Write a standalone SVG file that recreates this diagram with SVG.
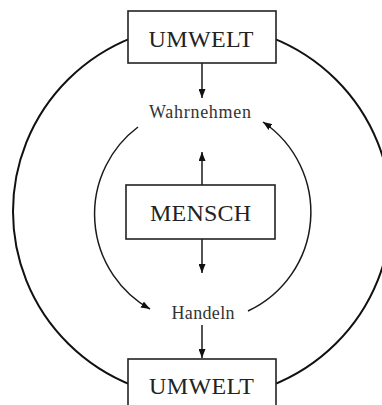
<svg xmlns="http://www.w3.org/2000/svg" width="382" height="405" viewBox="0 0 382 405">
<style>
.box{fill:#fff;stroke:#222;stroke-width:1.6}
.ln{fill:none;stroke:#1a1a1a;stroke-width:1.5}
.ring{fill:none;stroke:#111;stroke-width:2}
.big{font-family:"Liberation Serif",serif;font-size:24px;fill:#222;text-anchor:middle}
.sm{font-family:"Liberation Serif",serif;font-size:18px;fill:#333;text-anchor:middle}
</style>
<defs>
<marker id="ah" viewBox="0 0 9 7" refX="9" refY="3.5" markerWidth="9" markerHeight="7" markerUnits="userSpaceOnUse" orient="auto">
<path d="M0,0 L9,3.5 L0,7 z" fill="#111"/>
</marker>
</defs>
<rect width="382" height="405" fill="#fff"/>
<g id="connectors">
<ellipse class="ring" cx="202" cy="211.5" rx="189" ry="187"/>
<line class="ln" x1="202" y1="63" x2="202" y2="98" marker-end="url(#ah)"/>
<line class="ln" x1="202" y1="185" x2="202" y2="152" marker-end="url(#ah)"/>
<line class="ln" x1="202" y1="239" x2="202" y2="273" marker-end="url(#ah)"/>
<line class="ln" x1="202" y1="325" x2="202" y2="358" marker-end="url(#ah)"/>
<path class="ln" d="M 138 127 A 109 109 0 0 0 150 309" marker-end="url(#ah)"/>
<path class="ln" d="M 248 311 A 109 109 0 0 0 263 122" marker-end="url(#ah)"/>
</g>
<g id="umwelt-top">
<rect class="box" x="128" y="11" width="148" height="52"/>
<text class="big" x="201" y="46.5" textLength="105">UMWELT</text>
</g>
<g id="wahrnehmen">
<text class="sm" x="200" y="118" textLength="102">Wahrnehmen</text>
</g>
<g id="mensch">
<rect class="box" x="126" y="185" width="149" height="54"/>
<text class="big" x="200.5" y="221" textLength="101">MENSCH</text>
</g>
<g id="handeln">
<text class="sm" x="203" y="319" textLength="63">Handeln</text>
</g>
<g id="umwelt-bottom">
<rect class="box" x="128" y="359" width="148" height="52"/>
<text class="big" x="201.5" y="394" textLength="105">UMWELT</text>
</g>
</svg>
